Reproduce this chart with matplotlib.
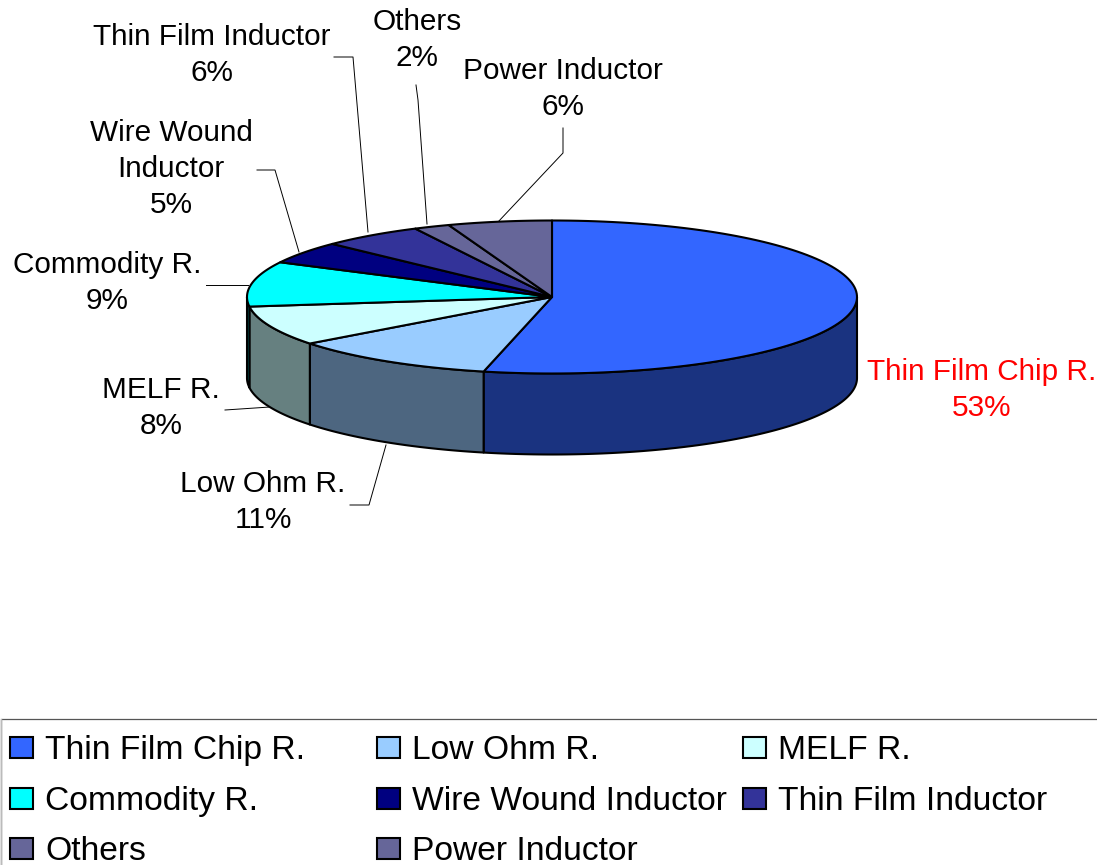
import numpy as np
import matplotlib
matplotlib.use("Agg")
import matplotlib.pyplot as plt
from matplotlib.patches import Polygon, Rectangle
import matplotlib.colors as mcolors

plt.rcParams["font.family"] = ["Liberation Sans", "DejaVu Sans"]

# ------------------------- data -------------------------
CATEGORIES = ["Thin Film Chip R.", "Low Ohm R.", "MELF R.", "Commodity R.",
              "Wire Wound Inductor", "Thin Film Inductor", "Others", "Power Inductor"]
SHARES = [53.6, 11.0, 8.4, 9.5, 4.7, 5.4, 1.9, 5.5]
PERCENT_LABELS = ["53%", "11%", "8%", "9%", "5%", "6%", "2%", "6%"]
SLICE_TEXT = ["Thin Film Chip R.", "Low Ohm R.", "MELF R.", "Commodity R.",
              "Wire Wound\nInductor", "Thin Film Inductor", "Others", "Power Inductor"]

# ------------------------- layout -------------------------
COLORS = ["#3366FF", "#99CCFF", "#CCFFFF", "#00FFFF",
          "#000080", "#333399", "#666699", "#666699"]
CX, CY, RX, RY, DEPTH = 552, 297, 305, 76.5, 81
LABEL_POS = [(982, 390), (263, 502), (161, 408), (107, 283),
             (171, 169), (212, 55), (417, 40), (563, 89)]
LEADERS = [None,
           [(350, 505), (369, 505), (386, 445)],
           [(225, 410), (270, 407)],
           [(206, 285), (248, 285)],
           [(257, 170), (275, 170), (299, 252)],
           [(334, 57), (353, 57), (368, 232)],
           [(416, 85), (418, 100), (427, 224)],
           [(563, 128), (563, 153), (498, 222)]]
LEGEND_X = [10, 377, 743]
LEGEND_Y = [747, 798, 848]
LABEL_SIZE = 21.4
LEGEND_SIZE = 24.2
EDGE_LW = 1.5


def rim(t_deg):
    t = np.radians(t_deg)
    return CX + RX * np.sin(t), CY - RY * np.cos(t)


fig = plt.figure(figsize=(10.97, 8.65), dpi=100)
ax = fig.add_axes([0, 0, 1, 1])
ax.set_xlim(0, 1097)
ax.set_ylim(865, 0)
ax.axis("off")

edges = np.concatenate([[0], np.cumsum(SHARES)]) / np.sum(SHARES) * 360

# walls (only the front half shows)
for i, c in enumerate(COLORS):
    a0, a1 = max(edges[i], 90), min(edges[i + 1], 270)
    if a1 <= a0:
        continue
    ts = np.linspace(a0, a1, 120)
    xs, ys = rim(ts)
    pts = np.r_[np.c_[xs, ys], np.c_[xs[::-1], ys[::-1] + DEPTH]]
    side = tuple(v * 0.5 for v in mcolors.to_rgb(c))
    ax.add_patch(Polygon(pts, closed=True, facecolor=side, edgecolor="black",
                         linewidth=EDGE_LW, joinstyle="round", zorder=2))

# top face
for i, c in enumerate(COLORS):
    ts = np.linspace(edges[i], edges[i + 1], 120)
    xs, ys = rim(ts)
    pts = np.r_[[(CX, CY)], np.c_[xs, ys]]
    ax.add_patch(Polygon(pts, closed=True, facecolor=c, edgecolor="black",
                         linewidth=EDGE_LW, joinstyle="round", zorder=3))

# slice labels and leader lines
for i, name in enumerate(SLICE_TEXT):
    color = "#FF0000" if i == 0 else "black"
    ax.text(LABEL_POS[i][0], LABEL_POS[i][1], f"{name}\n{PERCENT_LABELS[i]}",
            ha="center", va="center", ma="center", fontsize=LABEL_SIZE,
            color=color, linespacing=1.37, zorder=5)
    if LEADERS[i]:
        lx, ly = zip(*LEADERS[i])
        ax.plot(lx, ly, color="black", lw=0.7, zorder=1)

# legend box
ax.add_patch(Rectangle((0.5, 718.5), 1097, 160, facecolor="white", edgecolor="#555555",
                       linewidth=0.9, zorder=1))
ax.plot([0.5, 0.5], [719, 865], color="#BBBBBB", lw=1, zorder=2)
for i, name in enumerate(CATEGORIES):
    row, col = divmod(i, 3)
    x, y = LEGEND_X[col], LEGEND_Y[row]
    ax.add_patch(Rectangle((x, y - 10.5), 23, 21, facecolor=COLORS[i], edgecolor="black",
                           linewidth=1.5, zorder=3))
    ax.text(x + 35, y, name, ha="left", va="center_baseline", fontsize=LEGEND_SIZE,
            color="black", zorder=3)

fig.savefig("out.png", dpi=100)
